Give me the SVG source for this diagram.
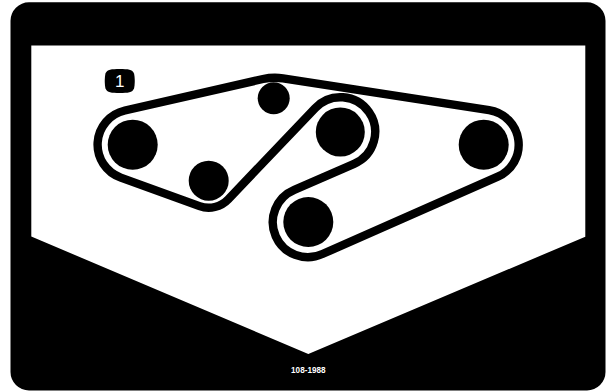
<svg xmlns="http://www.w3.org/2000/svg" width="608" height="391" viewBox="0 0 608 391">
<style>
.pulley{fill:#000}
.belt{fill:none;stroke:#000;stroke-width:8.4;stroke-linejoin:round}
.lbl{fill:#fff;font-family:"Liberation Sans",Arial,sans-serif;text-anchor:middle}
</style>
<rect width="608" height="391" fill="#fff"/>
<g id="card">
<path fill-rule="evenodd" d="M29 2.300H587A18.500 18.500 0 0 1 605.500 20.800V372A18.500 18.500 0 0 1 587 390.500H29A18.500 18.500 0 0 1 10.500 372V20.800A18.500 18.500 0 0 1 29 2.300Z M31.300 45.500V236.500L308.300 354L585.300 236.700V45.500Z"/>
</g>
<g id="connectors">
<path class="belt" d="M124.900 110.500L263 79Q273 76.800 283 78.300L489.100 110.100A35 35 0 0 1 497.800 176.700L322.400 254A35 35 0 1 1 294.300 189.900L354.100 163.800A34.700 34.700 0 1 0 315.200 108.100L228.200 199.300A27 27 0 0 1 199.500 206.100L120.800 177.600A35 35 0 0 1 124.900 110.500Z"/>
</g>
<g id="pulley-left"><circle class="pulley" cx="132.700" cy="144.700" r="25"/></g>
<g id="pulley-idler-bottom"><circle class="pulley" cx="208.700" cy="180.700" r="20"/></g>
<g id="pulley-idler-top"><circle class="pulley" cx="273.700" cy="98.300" r="16"/></g>
<g id="pulley-middle"><circle class="pulley" cx="340.300" cy="132" r="24.500"/></g>
<g id="pulley-lower"><circle class="pulley" cx="308.300" cy="222" r="25"/></g>
<g id="pulley-right"><circle class="pulley" cx="483.700" cy="144.700" r="25"/></g>
<g id="badge">
<path d="M119.700 69C128 69 132.500 69.500 134 73.500C135 77 135 85 134 88.500C132.500 92.500 128 93 119.700 93C111.500 93 107 92.500 105.500 88.500C104.500 85 104.500 77 105.500 73.500C107 69.500 111.500 69 119.700 69Z"/>
<text class="lbl" x="119.700" y="87.300" font-size="17">1</text>
</g>
<g id="part-number">
<text class="lbl" x="308.300" y="372.800" font-size="9.500" font-weight="bold" textLength="34.500" lengthAdjust="spacingAndGlyphs">108-1988</text>
</g>
</svg>
